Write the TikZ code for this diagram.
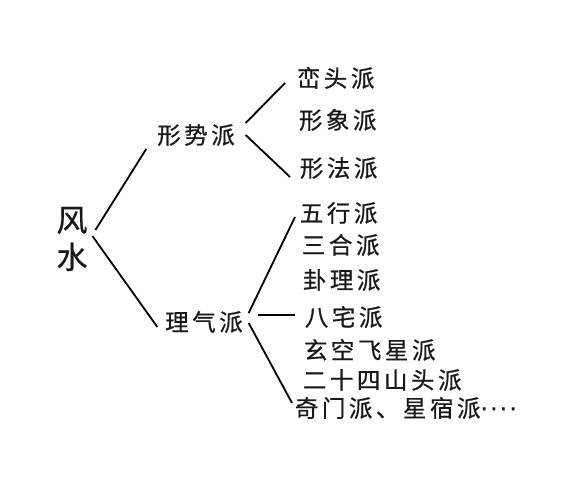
\documentclass[tikz,border=0pt]{standalone}
\usepackage{fontspec}
\newfontfamily\cjk[LetterSpace=15,FakeBold=0.6]{Noto Sans CJK SC}
\newfontfamily\dotfont[LetterSpace=9,FakeBold=0.6]{DejaVu Sans}
\usetikzlibrary{positioning}

\begin{document}
\begin{tikzpicture}[x=1pt, y=-1pt,
  branch/.style={inner sep=0pt, text=black!90, font=\cjk\fontsize{23.5}{28}\selectfont},
  school/.style={branch, anchor=west}]
\useasboundingbox (0,0) rectangle (585,500);
\begin{scope}[line width=1.8pt]

  % root
  \node[inner sep=0pt, align=center, text=black!90, font=\cjk\fontsize{31}{37}\selectfont]
        (fengshui) at (72,239) {风\\水};

  % the two main schools
  \node[branch] (xingshi) at (196,135) {形势派};
  \node[branch] (liqi) at (204,322) {理气派};

  % under xingshi
  \node[school] (luantou) at (296,78) {峦头派};
  \node[school] (xingxiang) at (298,120) {形象派};
  \node[school] (xingfa) at (299,168) {形法派};

  % under liqi
  \node[school] (wuxing) at (299,213) {五行派};
  \node[school] (sanhe) at (301,245) {三合派};
  \node[school] (guali) at (302,280) {卦理派};
  \node[school] (bazhai) at (304,317) {八宅派};
  \node[school] (xuankong) at (303,350) {玄空飞星派};
  \node[school] (ershisi) at (302,380) {二十四山头派};
  \node[school] (qimen) at (294,408) {奇门派、星宿派{\dotfont····}};

  % connectors
  \draw ([xshift=7pt,yshift=9pt]fengshui.east) -- ([xshift=-10pt,yshift=-2pt]xingshi.south west);
  \draw ([xshift=4pt,yshift=3pt]fengshui.east) -- ([xshift=-7pt,yshift=-5pt]liqi.west);

  \draw ([xshift=10pt,yshift=12pt]xingshi.east) -- ([xshift=-11pt,yshift=-5pt]luantou.west);
  \draw ([xshift=10pt]xingshi.east) -- ([xshift=-9pt,yshift=-9pt]xingfa.west);

  \draw ([xshift=5pt,yshift=9pt]liqi.east) -- ([xshift=-4pt,yshift=-4pt]wuxing.west);
  \draw ([xshift=14pt,yshift=7pt]liqi.east) -- ([xshift=-9pt,yshift=2pt]bazhai.west);
  \draw ([xshift=5pt,yshift=-1pt]liqi.east) -- ([xshift=-2pt,yshift=5pt]qimen.west);
\end{scope}
\end{tikzpicture}
\end{document}
